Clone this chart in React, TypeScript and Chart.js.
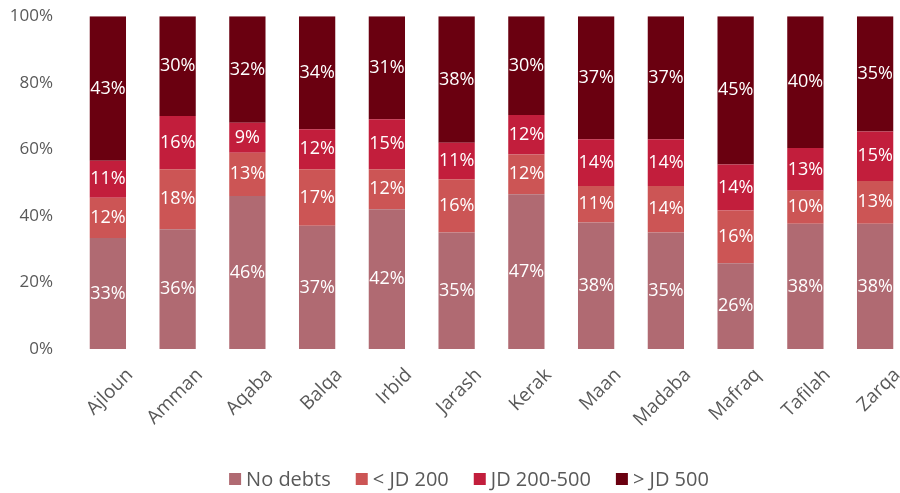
import React, { useEffect, useRef } from "react";
import { Chart, registerables } from "chart.js";

Chart.register(...registerables);

const categories = ["Ajloun", "Amman", "Aqaba", "Balqa", "Irbid", "Jarash", "Kerak", "Maan", "Madaba", "Mafraq", "Tafilah", "Zarqa"];
const noDebts = [33, 36, 46, 37, 42, 35, 47, 38, 35, 26, 38, 38];
const under200 = [12, 18, 13, 17, 12, 16, 12, 11, 14, 16, 10, 13];
const jd200to500 = [11, 16, 9, 12, 15, 11, 12, 14, 14, 14, 13, 15];
const over500 = [43, 30, 32, 34, 31, 38, 30, 37, 37, 45, 40, 35];
const yTicks = [0, 20, 40, 60, 80, 100];

const seriesNames = ["No debts", "< JD 200", "JD 200-500", "> JD 500"];
const seriesColors = ["#B06A72", "#CC5555", "#C21E3C", "#6A0010"];
const FONT = "'Open Sans', 'Noto Sans', sans-serif";

export default function App() {
  const ref = useRef<HTMLCanvasElement | null>(null);
  useEffect(() => {
    const raw = [noDebts, under200, jd200to500, over500];
    const totals = categories.map((_, i) => raw.reduce((s, a) => s + a[i], 0));
    const labelPlugin = {
      id: "segLabels",
      afterDatasetsDraw(chart: any) {
        const ctx = chart.ctx;
        ctx.save();
        ctx.fillStyle = "#ffffff";
        ctx.font = `18px ${FONT}`;
        ctx.textAlign = "center";
        ctx.textBaseline = "middle";
        chart.data.datasets.forEach((ds: any, di: number) => {
          const meta = chart.getDatasetMeta(di);
          meta.data.forEach((el: any, i: number) => {
            const y = (el.y + el.base) / 2;
            ctx.fillText(ds.rawValues[i] + "%", el.x, y);
          });
        });
        ctx.restore();
      },
    };
    const legendPlugin = {
      id: "customLegend",
      afterDraw(chart: any) {
        const ctx = chart.ctx;
        ctx.save();
        ctx.font = `20px ${FONT}`;
        ctx.textBaseline = "middle";
        ctx.textAlign = "left";
        const box = 12;
        const gapText = 5;
        const gapItem = 25;
        const items = chart.data.datasets.map((ds: any) => ({
          label: ds.label,
          color: ds.backgroundColor,
          w: ctx.measureText(ds.label).width,
        }));
        const total = items.reduce((s: number, it: any) => s + box + gapText + it.w, 0) + gapItem * (items.length - 1);
        const cx = 469;
        const cy = chart.height - 17;
        let x = cx - total / 2;
        items.forEach((it: any) => {
          ctx.fillStyle = it.color;
          ctx.fillRect(x, cy - box / 2, box, box);
          x += box + gapText;
          ctx.fillStyle = "#595959";
          ctx.fillText(it.label, x, cy + 1);
          x += it.w + gapItem;
        });
        ctx.restore();
      },
    };
    const chart = new Chart(ref.current as HTMLCanvasElement, {
      type: "bar",
      data: {
        labels: categories,
        datasets: raw.map((arr, k) => ({
          label: seriesNames[k],
          data: arr.map((v, i) => (v / totals[i]) * 100),
          rawValues: arr,
          backgroundColor: seriesColors[k],
          borderWidth: 0,
          barPercentage: 0.52,
          categoryPercentage: 1,
        })) as any,
      },
      options: {
        animation: false,
        responsive: false,
        maintainAspectRatio: false,
        layout: { padding: { top: 0, right: 0, left: 0, bottom: 50 } },
        plugins: {
          legend: { display: false },
          tooltip: { enabled: false },
        },
        scales: {
          x: {
            stacked: true,
            grid: { display: false, drawTicks: false },
            border: { display: false },
            afterFit: (scale: any) => {
              scale.height = 97;
            },
            ticks: {
              color: "#595959",
              font: { size: 19, family: FONT },
              minRotation: 45,
              maxRotation: 45,
              labelOffset: 22,
              padding: 15,
            },
          },
          y: {
            stacked: true,
            min: 0,
            max: 100,
            grid: { display: false, drawTicks: false },
            border: { display: false },
            afterBuildTicks: (scale: any) => {
              scale.ticks = yTicks.map((v) => ({ value: v }));
            },
            afterFit: (scale: any) => {
              scale.width = 73;
            },
            ticks: {
              color: "#595959",
              font: { size: 17, family: FONT },
              padding: 20,
              callback: (v: any) => v + "%",
            },
          },
        },
      },
      plugins: [labelPlugin, legendPlugin],
    } as any);
    return () => chart.destroy();
  }, []);
  return (
    <div style={{ position: "fixed", left: 0, top: 0, width: 900, height: 493, overflow: "hidden", background: "#fff" }}>
      <canvas ref={ref} width={910} height={510} style={{ display: "block", marginTop: -14 }} />
    </div>
  );
}
